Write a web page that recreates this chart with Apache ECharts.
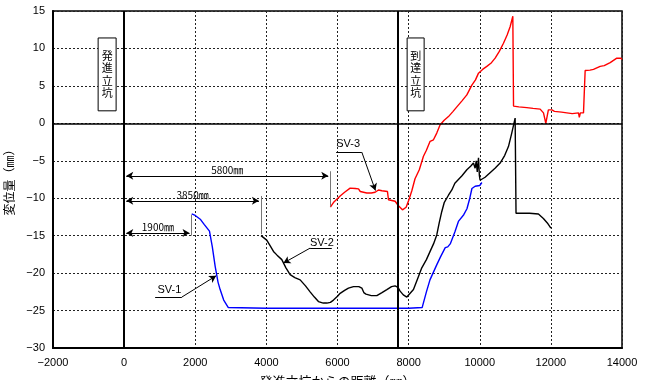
<!DOCTYPE html>
<html>
<head>
<meta charset="utf-8">
<script src="https://cdn.jsdelivr.net/npm/echarts@6/dist/echarts.min.js"></script>
<style>
html, body { margin: 0; padding: 0; background: #fff; }
#chart { width: 648px; height: 380px; }
</style>
</head>
<body>
<div id="chart"></div>
<script>
// 沈下量データ [距離mm, 変位mm]
var sv1 = [
    [1900, -12.1], [2000, -12.3], [2140, -12.8], [2250, -13.5], [2400, -14.4], [2480, -16.5],
    [2560, -19.1], [2640, -21.2], [2700, -22.2], [2800, -23.6], [2930, -24.6], [4000, -24.7],
    [5000, -24.7], [6000, -24.7], [7000, -24.7], [8000, -24.7], [8380, -24.6], [8500, -22.5],
    [8600, -20.9], [8790, -18.9], [8900, -17.8], [9030, -16.6], [9100, -16.5], [9170, -16.1],
    [9300, -14.5], [9400, -13.1], [9550, -12.2], [9640, -11.4], [9720, -10.0], [9780, -8.7],
    [9870, -8.4], [10000, -8.3], [10060, -7.9]
];
var sv2 = [
    [3850, -15.0], [4010, -15.6], [4100, -16.3], [4200, -17.1], [4300, -17.6], [4434, -18.2],
    [4550, -19.3], [4668, -20.2], [4800, -20.6], [4950, -20.9], [5100, -21.7], [5230, -22.5],
    [5350, -23.2], [5464, -23.8], [5600, -24.0], [5700, -24.0], [5800, -23.9], [5887, -23.6],
    [6000, -23.1], [6074, -22.7], [6200, -22.3], [6308, -22.0], [6450, -21.8], [6600, -21.8],
    [6684, -22.0], [6740, -22.6], [6800, -22.8], [6950, -23.0], [7106, -23.0], [7250, -22.6],
    [7387, -22.2], [7520, -21.8], [7620, -21.7], [7700, -21.9], [7761, -22.4], [7850, -22.9],
    [7950, -23.2], [8000, -23.3], [8136, -22.2], [8250, -20.8], [8370, -19.3], [8500, -18.2],
    [8604, -17.1], [8700, -16.1], [8791, -14.9], [8860, -13.3], [8931, -11.8], [9000, -10.6],
    [9025, -10.4], [9120, -9.6], [9215, -8.9], [9300, -8.0], [9400, -7.5], [9500, -7.0],
    [9637, -6.2], [9750, -5.7], [9823, -5.3], [9870, -6.0], [9900, -5.0], [9930, -6.5],
    [9965, -4.6], [9990, -7.0], [10010, -7.6], [10150, -7.2], [10290, -6.6], [10430, -6.0],
    [10573, -5.3], [10700, -4.3], [10807, -3.1], [10900, -1.3], [10995, 0.7], [11020, -12.0],
    [11400, -12.0], [11650, -12.1], [11790, -12.7], [11900, -13.3], [12000, -14.0]
];
var sv3 = [
    [5800, -11.2], [5900, -10.5], [6074, -9.7], [6200, -9.2], [6355, -8.65], [6500, -8.7],
    [6590, -8.75], [6640, -9.1], [6824, -9.3], [6950, -9.3], [7058, -9.2], [7152, -8.9],
    [7250, -9.0], [7405, -9.1], [7433, -10.2], [7620, -10.4], [7714, -11.0], [7827, -11.55],
    [7930, -11.2], [8000, -10.3], [8090, -9.0], [8180, -7.4], [8300, -6.2], [8417, -4.4],
    [8500, -3.6], [8604, -2.4], [8698, -2.2], [8791, -1.3], [8886, -0.2], [9000, 0.4],
    [9120, 0.9], [9250, 1.6], [9356, 2.2], [9500, 3.0], [9637, 3.8], [9778, 5.1],
    [9880, 5.8], [9965, 6.7], [10080, 7.2], [10199, 7.6], [10330, 8.1], [10433, 8.7],
    [10550, 9.6], [10667, 10.7], [10770, 11.8], [10854, 12.9], [10930, 14.3], [10950, 2.3],
    [11100, 2.2], [11323, 2.1], [11500, 2.0], [11698, 1.9], [11792, 1.4], [11830, 0.6],
    [11857, 0.0], [11900, 0.1], [11930, 1.8], [12030, 1.8], [12100, 1.6], [12300, 1.5],
    [12449, 1.4], [12600, 1.3], [12777, 1.4], [12800, 0.8], [12830, 1.4], [12917, 1.4],
    [12964, 7.05], [13100, 7.1], [13198, 7.2], [13386, 7.6], [13500, 7.7], [13667, 8.1],
    [13854, 8.7], [13967, 8.7], [14000, 8.5]
];

// 立坑位置・寸法線
var shaftLines = [0, 7700];
var dims = [1900, 3850, 5800];

var chart = echarts.init(document.getElementById("chart"));

var jp = "'Noto Sans CJK JP', sans-serif";
var minus = function (v) { return String(v).replace("-", "\u2212"); };

function seg(a, b, arrowEnd, color) {
    return [
        { coord: a, symbol: "none" },
        { coord: b, symbol: arrowEnd ? "arrow" : "none",
          lineStyle: { color: color || "#000", width: 1, type: "solid" } }
    ];
}
function dimLine(len, y, ty1, ty2) {
    return [
        [
            { coord: [60, y], symbol: "arrow" },
            { coord: [len - 60, y], symbol: "arrow",
              lineStyle: { color: "#000", width: 1.2, type: "solid" },
              label: { show: true, position: "insideMiddleTop", distance: 1,
                       formatter: len + "\u339c", color: "#000", fontSize: 10, fontFamily: jp } }
        ],
        seg([len, ty1], [len, ty2], false, "#777")
    ];
}
function textPt(x, y, t) {
    return { coord: [x, y], symbol: "circle", symbolSize: 0,
             label: { show: true, position: "inside", formatter: t, color: "#000",
                      fontSize: 11, fontFamily: "'Liberation Sans', sans-serif" } };
}

var annotLines = [];
annotLines = annotLines.concat(dimLine(dims[0], -14.66, -12.2, -15.0));
annotLines = annotLines.concat(dimLine(dims[1], -10.35, -9.7, -14.8));
annotLines = annotLines.concat(dimLine(dims[2], -7.0, -6.4, -11.1));
annotLines.push(seg([5962, -3.85], [6684, -3.85]));
annotLines.push(seg([6684, -3.85], [7067, -8.97], true));
annotLines.push(seg([5840, -16.66], [5230, -16.66]));
annotLines.push(seg([5230, -16.66], [4480, -18.66], true));
annotLines.push(seg([872, -23.2], [1623, -23.2]));
annotLines.push(seg([1623, -23.2], [2587, -20.36], true));
shaftLines.forEach(function (v) {
    annotLines.push({ xAxis: v, label: { show: false },
                      lineStyle: { color: "#000", width: 2, type: "solid" } });
});
annotLines.push({ yAxis: 0, label: { show: false },
                  lineStyle: { color: "#000", width: 1.5, type: "solid" } });

function box(x1, x2, t) {
    return [
        { coord: [x1, 11.4],
          label: { show: true, position: "inside", formatter: t.split("").join("\n"),
                   color: "#000", fontSize: 11, lineHeight: 12.5, fontFamily: jp } },
        { coord: [x2, 1.67] }
    ];
}

var option = {
    animation: false,
    backgroundColor: "#fff",
    grid: {
        left: 53, right: 26, top: 11, bottom: 32,
        containLabel: false, outerBoundsMode: "none",
        show: true, borderColor: "#000", borderWidth: 1.5, backgroundColor: "transparent"
    },
    xAxis: {
        type: "value", min: -2000, max: 14000, interval: 2000,
        name: "発進立坑からの距離（\u339c）", nameLocation: "middle", nameGap: 27,
        nameTextStyle: { color: "#000", fontSize: 13, fontFamily: jp },
        axisLine: { show: true, onZero: false, lineStyle: { color: "#000", width: 2 } },
        axisTick: { show: false },
        axisLabel: { color: "#000", fontSize: 11, margin: 9, formatter: minus,
                     fontFamily: "'Liberation Sans', sans-serif" },
        splitLine: { show: true, lineStyle: { color: "#222", type: [2, 2], width: 1 } }
    },
    yAxis: {
        type: "value", min: -30, max: 15, interval: 5,
        name: "変位量（\u339c）", nameLocation: "middle", nameGap: 36, nameRotate: 90,
        nameTextStyle: { color: "#000", fontSize: 12, fontFamily: jp },
        axisLine: { show: true, onZero: false, lineStyle: { color: "#000", width: 2 } },
        axisTick: { show: false },
        axisLabel: { color: "#000", fontSize: 11, margin: 8, formatter: minus,
                     fontFamily: "'Liberation Sans', sans-serif" },
        splitLine: { show: true, lineStyle: { color: "#222", type: [2, 2], width: 1 } }
    },
    series: [
        {
            name: "annot", type: "line", data: [], silent: true,
            markLine: { silent: true, symbol: ["none", "none"], symbolSize: [6, 7], data: annotLines,
                        label: { show: false }, lineStyle: { color: "#000", width: 1, type: "solid" } },
            markPoint: { silent: true, data: [
                textPt(6299, -2.74, "SV-3"),
                textPt(5562, -16.0, "SV-2"),
                textPt(1271, -22.2, "SV-1")
            ] },
            markArea: { silent: true,
                        itemStyle: { color: "#fff", borderColor: "#000", borderWidth: 1 },
                        data: [box(-731, -225, "発進立坑"), box(7958, 8436, "到達立坑")] }
        },
        { name: "SV-1", type: "line", data: sv1, showSymbol: false, z: 3,
          lineStyle: { color: "#0000ff", width: 1.4 } },
        { name: "SV-2", type: "line", data: sv2, showSymbol: false, z: 3,
          lineStyle: { color: "#000", width: 1.4 } },
        { name: "SV-3", type: "line", data: sv3, showSymbol: false, z: 3,
          lineStyle: { color: "#ff0000", width: 1.4 } }
    ]
};

chart.setOption(option);
window.addEventListener("resize", function () {
    chart.resize();
});
</script>
</body>
</html>
